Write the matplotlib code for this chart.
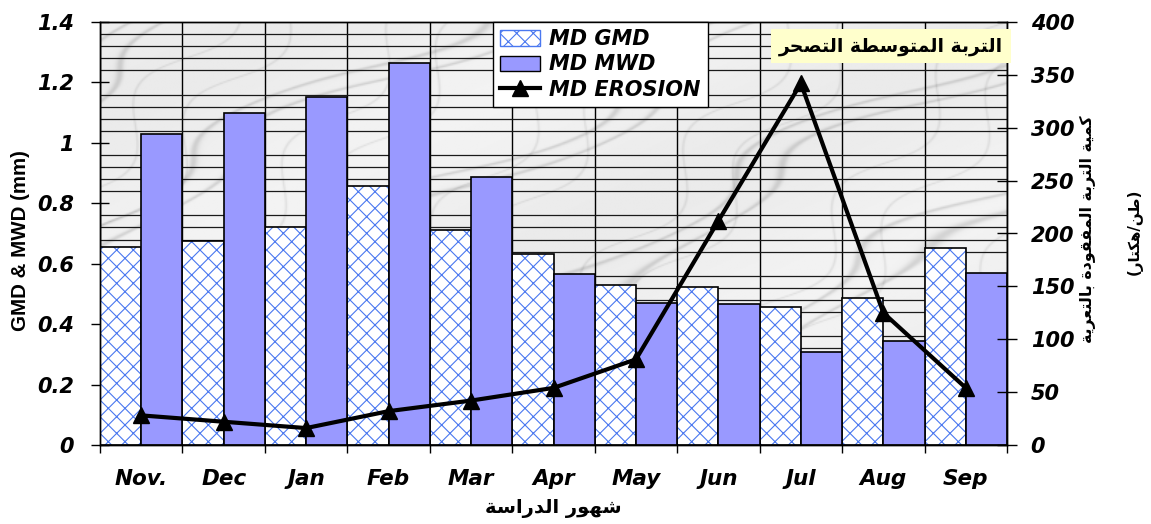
import numpy as np
import matplotlib
matplotlib.use("Agg")
import matplotlib.pyplot as plt
from matplotlib.patches import Patch
from matplotlib.lines import Line2D

# ---------------- data ----------------
months = ["Nov.", "Dec", "Jan", "Feb", "Mar", "Apr", "May", "Jun", "Jul", "Aug", "Sep"]
md_gmd = [0.655, 0.675, 0.72, 0.857, 0.71, 0.632, 0.53, 0.523, 0.457, 0.487, 0.652]
md_mwd = [1.03, 1.10, 1.152, 1.265, 0.887, 0.566, 0.47, 0.467, 0.308, 0.344, 0.57]
md_erosion = [28, 22, 16, 32, 42, 54, 81, 212, 342, 125, 54]
left_ticks = [0, 0.2, 0.4, 0.6, 0.8, 1.0, 1.2, 1.4]
left_ticklabels = ["0", "0.2", "0.4", "0.6", "0.8", "1", "1.2", "1.4"]
right_ticks = [0, 50, 100, 150, 200, 250, 300, 350, 400]
legend_labels = ["MD GMD", "MD MWD", "MD EROSION"]
title_box_text = "التربة المتوسطة التصحر"
xlabel_text = "شهور الدراسة"
ylabel_left = "GMD & MWD (mm)"
ylabel_right_1 = "كمية التربة المفقودة بالتعرية"
ylabel_right_2 = "(طن/هكتار)"

# ------------- simple Arabic shaping (contextual forms + RTL) -------------
AR = {  # iso, fin, init, med
    'ا': ('\uFE8D', '\uFE8E', None, None),
    'ب': ('\uFE8F', '\uFE90', '\uFE91', '\uFE92'),
    'ة': ('\uFE93', '\uFE94', None, None),
    'ت': ('\uFE95', '\uFE96', '\uFE97', '\uFE98'),
    'ح': ('\uFEA1', '\uFEA2', '\uFEA3', '\uFEA4'),
    'د': ('\uFEA9', '\uFEAA', None, None),
    'ر': ('\uFEAD', '\uFEAE', None, None),
    'س': ('\uFEB1', '\uFEB2', '\uFEB3', '\uFEB4'),
    'ش': ('\uFEB5', '\uFEB6', '\uFEB7', '\uFEB8'),
    'ص': ('\uFEB9', '\uFEBA', '\uFEBB', '\uFEBC'),
    'ط': ('\uFEC1', '\uFEC2', '\uFEC3', '\uFEC4'),
    'ع': ('\uFEC9', '\uFECA', '\uFECB', '\uFECC'),
    'ف': ('\uFED1', '\uFED2', '\uFED3', '\uFED4'),
    'ق': ('\uFED5', '\uFED6', '\uFED7', '\uFED8'),
    'ك': ('\uFED9', '\uFEDA', '\uFEDB', '\uFEDC'),
    'ل': ('\uFEDD', '\uFEDE', '\uFEDF', '\uFEE0'),
    'م': ('\uFEE1', '\uFEE2', '\uFEE3', '\uFEE4'),
    'ن': ('\uFEE5', '\uFEE6', '\uFEE7', '\uFEE8'),
    'ه': ('\uFEE9', '\uFEEA', '\uFEEB', '\uFEEC'),
    'و': ('\uFEED', '\uFEEE', None, None),
    'ي': ('\uFEF1', '\uFEF2', '\uFEF3', '\uFEF4'),
}


def shape(s):
    out = []
    for i, c in enumerate(s):
        if c not in AR:
            out.append(c)
            continue
        prev = s[i - 1] if i > 0 else None
        nxt = s[i + 1] if i + 1 < len(s) else None
        jp = prev in AR and AR[prev][2] is not None
        jn = AR[c][2] is not None and nxt in AR
        iso, fin, ini, med = AR[c]
        if jp and jn:
            out.append(med)
        elif jp:
            out.append(fin)
        elif jn:
            out.append(ini)
        else:
            out.append(iso)
    vis = ''.join(out)[::-1]
    vis = vis.translate(str.maketrans({'(': ')', ')': '('}))
    return vis


plt.rcParams['font.family'] = ['DejaVu Sans']
plt.rcParams['hatch.linewidth'] = 0.8

W, H = 1151, 524
fig = plt.figure(figsize=(W / 100, H / 100), dpi=100)
ax = fig.add_axes([100 / W, 1 - 445 / H, 907 / W, 423 / H])
ax2 = ax.twinx()

n = len(months)
x = np.arange(n)

# marble-like background (decorative texture)
ny, nx = 300, 650
yy, xx = np.mgrid[0:ny, 0:nx]
v = np.sin(xx * 0.03 + yy * 0.055 + 0.8 * np.sin(xx * 0.017 - yy * 0.011)
           + 0.5 * np.sin(yy * 0.09 + xx * 0.013))
v2 = np.sin(xx * 0.045 + yy * 0.035 + 0.9 * np.sin(yy * 0.05 - xx * 0.02))
tex = (0.95 - 0.12 * np.exp(-((v - 0.85) ** 2) / 0.003)
       - 0.07 * np.exp(-((v2 + 0.5) ** 2) / 0.002)
       - 0.03 * (0.5 + 0.5 * np.sin(xx * 0.012 + yy * 0.025)))
ax.imshow(tex, cmap='gray', vmin=0, vmax=1, extent=(-0.5, n - 0.5, 0, 1.4),
          aspect='auto', zorder=0, interpolation='bilinear')
ax.set_xlim(-0.5, n - 0.5)
ax.set_ylim(0, 1.4)
ax2.set_ylim(0, 400)

# grid
ax.set_axisbelow(True)
ax.set_yticks(np.arange(0.04, 1.4, 0.04), minor=True)
ax.grid(which='minor', axis='y', color='#1a1a1a', lw=0.9, zorder=0.5)
ax.set_xticks(np.arange(-0.5, n, 1.0))
ax.grid(which='major', axis='x', color='black', lw=1.0, zorder=0.5)
ax.tick_params(axis='y', which='minor', length=0)

bw = 0.5
gmd_col = '#4a78f0'
mwd_col = '#9999ff'
ax.bar(x - bw / 2, md_gmd, width=bw, color='white', edgecolor=gmd_col, hatch='xx',
       linewidth=0, zorder=1)
ax.bar(x - bw / 2, md_gmd, width=bw, fill=False, edgecolor='black', linewidth=1.2, zorder=1.1)
ax.bar(x + bw / 2, md_mwd, width=bw, color=mwd_col, edgecolor='black', linewidth=1.2, zorder=1.2)

ax2.plot(x, md_erosion, color='black', lw=3, marker='^', markersize=11, zorder=3)

# ticks
tick_font = dict(family='DejaVu Sans', weight='bold', style='italic', size=15)
ax.set_yticks(left_ticks)
ax.set_yticklabels(left_ticklabels, fontdict=tick_font)
ax.tick_params(axis='y', which='major', direction='inout', length=13.5, width=1, pad=12)
ax.tick_params(axis='x', which='major', direction='out', length=6, width=1, labelbottom=False)
ax.set_xticks(x, minor=True)
ax.set_xticklabels(months, minor=True, fontdict=dict(tick_font, size=15.5))
ax.tick_params(axis='x', which='minor', length=0, pad=17)

ax2.set_yticks(right_ticks)
ax2.set_yticklabels([str(t) for t in right_ticks], fontdict=tick_font)
ax2.tick_params(axis='y', direction='inout', length=14, width=1, pad=10)

for a in (ax, ax2):
    for sp in a.spines.values():
        sp.set_color('black')
        sp.set_linewidth(1.0)

# labels
fig.text(21 / W, 1 - 241 / H, ylabel_left, rotation=90, ha='center', va='center',
         fontsize=14.8, fontweight='bold', family='Liberation Sans')
fig.text(553 / W, 1 - 509 / H, shape(xlabel_text), ha='center', va='center',
         fontsize=14, fontweight='bold', family='DejaVu Sans')
fig.text(1088 / W, 1 - 229 / H, shape(ylabel_right_1), rotation=90, ha='center', va='center',
         fontsize=11.4, fontweight='bold', family='DejaVu Sans')
fig.text(1135 / W, 1 - 232 / H, shape(ylabel_right_2), rotation=90, ha='center', va='center',
         fontsize=10.8, fontweight='bold', family='DejaVu Sans')

# yellow annotation box
ax2.text((891 - 100) / 907, (445 - 46) / 423, shape(title_box_text), transform=ax2.transAxes,
         ha='center', va='center', fontsize=13.5, fontweight='bold', family='DejaVu Sans',
         bbox=dict(boxstyle='square,pad=0.42', facecolor='#ffffcc', edgecolor='none'), zorder=5)

# legend
handles = [Patch(facecolor='white', edgecolor=gmd_col, hatch='xx', linewidth=1),
           Patch(facecolor=mwd_col, edgecolor='black', linewidth=1),
           Line2D([0], [0], color='black', lw=3, marker='^', markersize=11)]
leg = ax2.legend(handles, legend_labels, loc='upper left', bbox_to_anchor=((493 - 100) / 907, 1.0),
                 borderaxespad=0, frameon=True, fancybox=False, framealpha=1,
                 prop=dict(family='DejaVu Sans', weight='bold', style='italic', size=15),
                 handlelength=1.9, handleheight=0.75, labelspacing=0.25, borderpad=0.35,
                 handletextpad=0.45)
leg.get_frame().set_edgecolor('black')
leg.get_frame().set_linewidth(1.0)
leg.set_zorder(6)

fig.savefig('out.png', dpi=100)
